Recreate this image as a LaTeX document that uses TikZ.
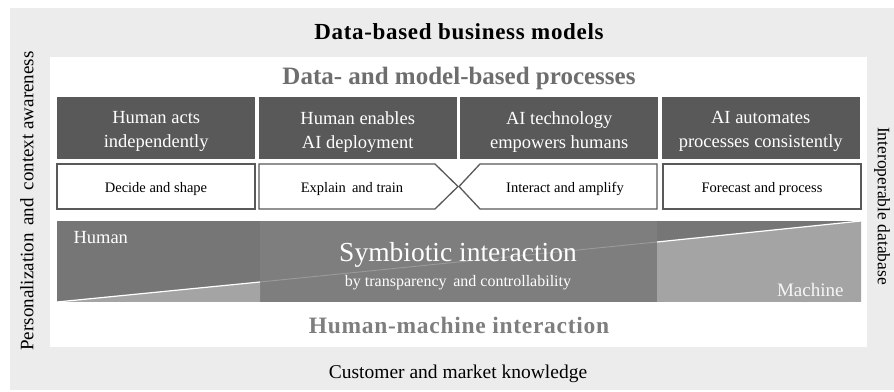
\documentclass[tikz,border=0pt]{standalone}
\usepackage{fontspec}
\setmainfont{Liberation Serif}
\usepackage{tikz}
\definecolor{bggray}{HTML}{ECECEC}
\definecolor{boxgray}{HTML}{595959}
\definecolor{banddark}{HTML}{767676}
\definecolor{bandmid}{HTML}{7E7E7E}
\definecolor{bandlight}{HTML}{A4A4A4}
\definecolor{headgray}{HTML}{6E6E6E}
\tikzset{
  fs/.style={font=\fontsize{#1}{24}\selectfont},
  fsb/.style={font=\fontsize{#1}{24}\selectfont\bfseries\addfontfeatures{LetterSpace=3}},
  rolebox/.style={draw=none,fill=boxgray,minimum width=198,minimum height=62,inner sep=0},
  roletext/.style={text=white,fs=18.5,align=center},
  taskbox/.style={draw=boxgray,line width=1.3,fill=white},
  tasktext/.style={fs=14.5},
}
\begin{document}
\begin{tikzpicture}[x=1pt,y=1pt]
\useasboundingbox (0,0) rectangle (894,391);
\fill[bggray] (10,1) rectangle (894,383);
\fill[white] (50,44) rectangle (867,334);

\node[fsb=23] (dbm) at (459,359) {Data-based business models};
\node[font=\fontsize{25}{24}\selectfont\bfseries,text=headgray] (dmp) at (459,313) {Data- and model-based processes};

\foreach \i/\txt in {0/{Human acts\\independently},1/{Human enables\\AI deployment},
  2/{AI technology\\empowers humans},3/{AI automates\\processes consistently}}
{
        \pgfmathtruncatemacro{\label}{\i};
        \node[rolebox,anchor=south west] (r\label) at (57+201.5*\i,232) {};
        \node[roletext] (rt\label) at ([yshift=-4]r\label.center) {\txt};
}

% task boxes
\draw[taskbox] (57,182) rectangle (255,227);
\draw[taskbox] (259,182) -- (259,227) -- (435,227) -- (458,204.5) -- (435,182) -- cycle;
\draw[taskbox] (480,182) -- (459,204.5) -- (480,227) -- (657,227) -- (657,182) -- cycle;
\draw[taskbox] (663,182) rectangle (861,227);
\node[tasktext] (t0) at (156,202) {Decide and shape};
\node[tasktext] (t1) at (352,202) {Explain\, and train};
\node[tasktext] (t2) at (565,202) {Interact and amplify};
\node[tasktext] (t3) at (762,202) {Forecast and process};

% interaction band
\fill[banddark] (57,89) rectangle (861,170);
\fill[bandmid] (260,89) rectangle (657,170);
\fill[bandlight] (57,89) -- (260,109) -- (260,89) -- cycle;
\fill[bandlight] (657,89) -- (657,149) -- (861,170) -- (861,89) -- cycle;
\draw[white,line width=1.2] (57,89) -- (260,109);
\draw[white,line width=1.2] (657,149) -- (861,170);
\draw[white!22!bandmid,line width=0.9] (260,109) -- (657,149);

\node[fs=18.5,text=white,anchor=west] (hum) at (70,153) {Human};
\node[fs=27.5,text=white] (sym) at (458,136) {Symbiotic interaction};
\node[fs=16,text=white] (trc) at (458,108) {by transparency\, and controllability};
\node[fs=19,text=white!90!bandlight,anchor=east] (mac) at (847,101) {Machine};

\node[fsb=23.5,text=bandmid] (hmi) at (459,66) {Human-machine interaction};
\node[fs=19.5] (cmk) at (458,17) {Customer and market knowledge};
\node[fs=19,rotate=90] (pca) at (27,190) {Personalization\, and\, context awareness};
\node[fs=17.5,rotate=-90] (idb) at (882,185) {Interoperable database};
\end{tikzpicture}
\end{document}
